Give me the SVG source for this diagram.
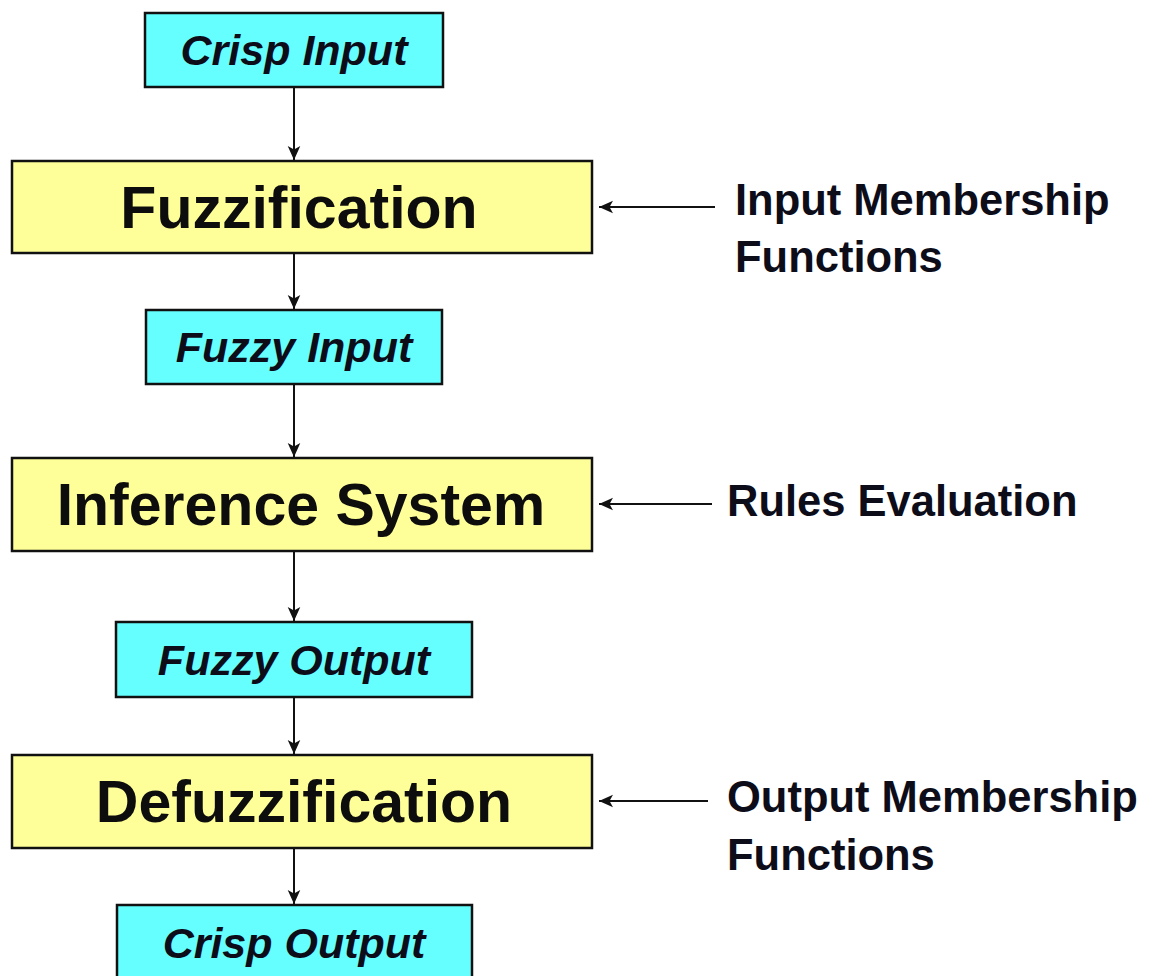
<svg xmlns="http://www.w3.org/2000/svg" width="1150" height="976" viewBox="0 0 1150 976">
  <style>
    .data { fill: #66ffff; stroke: #111; stroke-width: 2.5; }
    .stage { fill: #ffff99; stroke: #111; stroke-width: 2.5; }
    .data-text { font-family: "Liberation Sans", Arial, sans-serif; font-weight: bold; font-style: italic; font-size: 43px; fill: #0d0d1a; text-anchor: middle; }
    .stage-text { font-family: "Liberation Sans", Arial, sans-serif; font-weight: bold; font-size: 59px; fill: #0d0d0d; text-anchor: middle; }
    .side-text { font-family: "Liberation Sans", Arial, sans-serif; font-weight: bold; font-size: 43.5px; fill: #0d0d1a; }
    .link { stroke: #111; stroke-width: 2; fill: none; marker-end: url(#head); }
  </style>
  <defs>
    <marker id="head" viewBox="0 0 10 10" refX="10" refY="5" markerWidth="7" markerHeight="7" markerUnits="strokeWidth" orient="auto">
      <path d="M0,0.5 L10,5 L0,9.5 L2.5,5 Z" fill="#111"/>
    </marker>
  </defs>

  <rect width="1150" height="976" fill="#ffffff"/>

  <!-- connectors -->
  <g id="connectors">
    <line class="link" x1="294" y1="88" x2="294" y2="160"/>
    <line class="link" x1="294" y1="254" x2="294" y2="309"/>
    <line class="link" x1="294" y1="385" x2="294" y2="457"/>
    <line class="link" x1="294" y1="552" x2="294" y2="621"/>
    <line class="link" x1="294" y1="698" x2="294" y2="754"/>
    <line class="link" x1="294" y1="849" x2="294" y2="904"/>
    <line class="link" x1="715" y1="207" x2="599" y2="207"/>
    <line class="link" x1="712" y1="504" x2="599" y2="504"/>
    <line class="link" x1="708" y1="801" x2="599" y2="801"/>
  </g>

  <!-- data nodes -->
  <g id="crisp-input">
    <rect class="data" x="145" y="13" width="298" height="74"/>
    <text class="data-text" x="294" y="65">Crisp Input</text>
  </g>
  <g id="fuzzy-input">
    <rect class="data" x="146" y="310" width="296" height="74"/>
    <text class="data-text" x="294" y="362">Fuzzy Input</text>
  </g>
  <g id="fuzzy-output">
    <rect class="data" x="116" y="622" width="356" height="75"/>
    <text class="data-text" x="294" y="675">Fuzzy Output</text>
  </g>
  <g id="crisp-output">
    <rect class="data" x="117" y="905" width="355" height="80"/>
    <text class="data-text" x="294" y="958">Crisp Output</text>
  </g>

  <!-- processing stages -->
  <g id="fuzzification">
    <rect class="stage" x="12" y="161" width="580" height="92"/>
    <text class="stage-text" x="299" y="228">Fuzzification</text>
  </g>
  <g id="inference-system">
    <rect class="stage" x="12" y="458" width="580" height="93"/>
    <text class="stage-text" x="301" y="525">Inference System</text>
  </g>
  <g id="defuzzification">
    <rect class="stage" x="12" y="755" width="580" height="93"/>
    <text class="stage-text" x="304" y="822">Defuzzification</text>
  </g>

  <!-- side inputs -->
  <g id="input-mf">
    <text class="side-text" x="735" y="215">Input Membership</text>
    <text class="side-text" x="735" y="272">Functions</text>
  </g>
  <g id="rules-evaluation">
    <text class="side-text" x="727" y="516">Rules Evaluation</text>
  </g>
  <g id="output-mf">
    <text class="side-text" x="727" y="812">Output Membership</text>
    <text class="side-text" x="727" y="870">Functions</text>
  </g>
</svg>
